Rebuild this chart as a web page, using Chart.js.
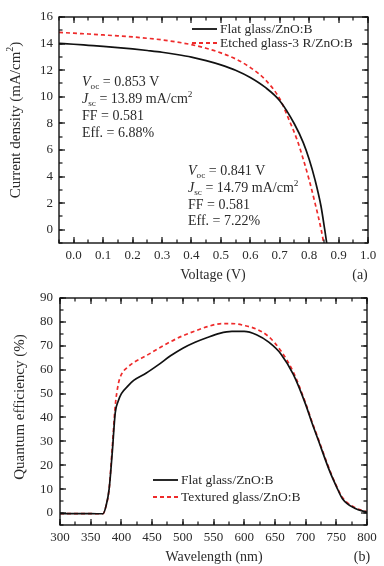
<!DOCTYPE html>
<html><head><meta charset="utf-8">
<script src="https://cdn.jsdelivr.net/npm/chart.js@4"></script>
<style>
html,body{margin:0;padding:0;background:#fff;}
#wrap{position:relative;width:384px;height:566px;overflow:hidden;}
.c{position:absolute;left:0;width:384px;height:283px;}
</style></head><body>
<div id="wrap">
<div class="c" style="top:0"><canvas id="c1"></canvas></div>
<div class="c" style="top:283px"><canvas id="c2"></canvas></div>
</div>
<script>
// ---- (a) J-V curves ----
const jvVoltFlat   = [-0.05, 0.0, 0.05, 0.1, 0.15, 0.2, 0.25, 0.3, 0.35, 0.4, 0.45, 0.5, 0.55, 0.6, 0.65, 0.7, 0.75, 0.78, 0.8, 0.82, 0.84, 0.853, 0.8597];
const jvCurFlat    = [14.02, 13.95, 13.87, 13.79, 13.7, 13.6, 13.48, 13.35, 13.18, 12.98, 12.72, 12.4, 12.0, 11.45, 10.72, 9.7, 7.95, 6.55, 5.3, 3.75, 1.8, 0.0, -1.0];
const jvVoltEtched = [-0.05, 0.0, 0.05, 0.1, 0.15, 0.2, 0.25, 0.3, 0.35, 0.4, 0.45, 0.5, 0.55, 0.6, 0.65, 0.7, 0.73, 0.76, 0.78, 0.8, 0.82, 0.841, 0.8495];
const jvCurEtched  = [14.85, 14.78, 14.72, 14.65, 14.58, 14.5, 14.4, 14.28, 14.12, 13.92, 13.65, 13.3, 12.85, 12.2, 11.3, 9.85, 8.35, 6.7, 5.3, 3.75, 2.0, 0.0, -1.0];
const jvXTicks = [0.0, 0.1, 0.2, 0.3, 0.4, 0.5, 0.6, 0.7, 0.8, 0.9, 1.0];
const jvYTicks = [0, 2, 4, 6, 8, 10, 12, 14, 16];
const jvLabels = ['Flat glass/ZnO:B', 'Etched glass-3 R/ZnO:B'];

// ---- (b) Quantum efficiency ----
const qeWavelength = [300, 320, 340, 360, 370, 375, 380, 385, 390, 395, 400, 410, 420, 440, 460, 480, 500, 520, 540, 560, 580, 600, 620, 640, 660, 680, 700, 710, 720, 740, 750, 760, 780, 800];
const qeFlat       = [-0.3, -0.2, -0.2, -0.3, -0.3, 3, 10, 25, 42, 47, 50, 53, 55.5, 58.5, 62, 65.8, 69, 71.5, 73.5, 75.2, 76, 76, 74.6, 71.5, 66.5, 58, 45.5, 38, 31, 17, 11.2, 6, 2, 0.3];
const qeTextured   = [-0.3, -0.2, -0.2, -0.3, -0.3, 3, 10, 27, 45, 54, 58, 61, 63, 65.8, 68.8, 71.7, 74.2, 76.2, 78, 79.2, 79.3, 78.5, 77, 73.8, 67.8, 59, 46, 38.5, 31.5, 17.5, 11.5, 6.5, 2.3, 0.5];
const qeXTicks = [300, 350, 400, 450, 500, 550, 600, 650, 700, 750, 800];
const qeYTicks = [0, 10, 20, 30, 40, 50, 60, 70, 80, 90];
const qeLabels = ['Flat glass/ZnO:B', 'Textured glass/ZnO:B'];

const FONT = '"Liberation Serif", "Times New Roman", serif';
const TXT = '#2a2a2a';
const BLACK = '#111111';
const RED = '#ee2b2b';

function richText(ctx, x, y, parts, size) {
  let cx = x;
  parts.forEach(p => {
    const sz = p.sub || p.sup ? size * 0.66 : size;
    ctx.font = (p.it ? 'italic ' : '') + sz + 'px ' + FONT;
    const dy = p.sub ? size * 0.3 : (p.sup ? -size * 0.35 : 0);
    ctx.fillText(p.t, cx, y + dy);
    cx += ctx.measureText(p.t).width;
  });
}

function deco(o) {
  return {
    id: 'deco',
    afterDraw(chart) {
      const ctx = chart.ctx, a = chart.chartArea, xs = chart.scales.x, ys = chart.scales.y;
      ctx.save();
      ctx.fillStyle = '#111111';
      const tick = (v, axis, len) => {
        if (axis === 'x') {
          const p = Math.round(xs.getPixelForValue(v));
          ctx.fillRect(p - 0.6, a.bottom - len, 1.2, len);
          ctx.fillRect(p - 0.6, a.top, 1.2, len);
        } else {
          const p = Math.round(ys.getPixelForValue(v));
          ctx.fillRect(a.left, p - 0.6, len, 1.2);
          ctx.fillRect(a.right - len, p - 0.6, len, 1.2);
        }
      };
      o.xMinor.forEach(v => tick(v, 'x', 3.5));
      o.xTicks.forEach(v => tick(v, 'x', 6));
      o.yMinor.forEach(v => tick(v, 'y', 3.5));
      o.yTicks.forEach(v => tick(v, 'y', 6));
      ctx.strokeStyle = '#111111';
      ctx.lineWidth = 1.4;
      ctx.setLineDash([]);
      ctx.strokeRect(a.left, a.top, a.right - a.left, a.bottom - a.top);

      // axis titles
      ctx.fillStyle = TXT;
      ctx.textBaseline = 'middle';
      ctx.textAlign = 'center';
      ctx.font = '14px ' + FONT;
      ctx.fillText(o.xTitle, o.xTitlePos[0], o.xTitlePos[1]);
      ctx.fillText(o.tag, o.tagPos[0], o.tagPos[1]);
      ctx.save();
      ctx.translate(o.yTitlePos[0], o.yTitlePos[1]);
      ctx.rotate(-Math.PI / 2);
      ctx.textAlign = 'left';
      let w = 0;
      o.yTitle.forEach(p => { ctx.font = (p.sup ? 10 : 15) + 'px ' + FONT; w += ctx.measureText(p.t).width; });
      richText(ctx, -w / 2, 0, o.yTitle, 15);
      ctx.restore();

      // legend
      ctx.textAlign = 'left';
      chart.data.datasets.forEach((d, i) => {
        const [lx, ly] = o.legendPos;
        const yy = ly + i * o.legendGap;
        ctx.save();
        ctx.strokeStyle = d.borderColor;
        ctx.lineWidth = 1.8;
        ctx.setLineDash(d.borderDash || []);
        ctx.beginPath(); ctx.moveTo(lx, yy); ctx.lineTo(lx + 25, yy); ctx.stroke();
        ctx.restore();
        ctx.fillStyle = TXT;
        ctx.font = '13.5px ' + FONT;
        ctx.fillText(d.label, lx + 28, yy + 0.5);
      });

      // annotations
      ctx.fillStyle = TXT;
      (o.notes || []).forEach(n => {
        n.lines.forEach((ln, i) => richText(ctx, n.x, n.y + i * n.gap[i], ln, 14));
      });
      ctx.restore();
    }
  };
}

function makeChart(id, o) {
  return new Chart(document.getElementById(id), {
    type: 'line',
    data: {
      datasets: o.series.map(s => ({
        label: s.label,
        data: s.x.map((v, i) => ({ x: v, y: s.y[i] })),
        borderColor: s.color,
        borderWidth: 1.7,
        borderDash: s.dash || [],
        pointRadius: 0,
        cubicInterpolationMode: 'monotone',
        fill: false
      }))
    },
    options: {
      responsive: true, maintainAspectRatio: false, animation: false,
      layout: { padding: o.padding },
      plugins: { legend: { display: false }, tooltip: { enabled: false } },
      scales: {
        x: {
          type: 'linear', min: o.xMin, max: o.xMax,
          grid: { display: false, drawTicks: false }, border: { display: false },
          ticks: { padding: o.xPad, color: TXT, font: { family: FONT, size: 13 }, maxRotation: 0, autoSkip: false, callback: o.xFmt },
          afterBuildTicks: s => { s.ticks = o.xTicks.map(v => ({ value: v })); },
          afterFit: s => { s.height = o.xH; }
        },
        y: {
          type: 'linear', min: o.yMin, max: o.yMax,
          grid: { display: false, drawTicks: false }, border: { display: false },
          ticks: { padding: o.yPad, color: TXT, font: { family: FONT, size: 13 }, autoSkip: false, callback: v => String(v) },
          afterBuildTicks: s => { s.ticks = o.yTicks.map(v => ({ value: v })); },
          afterFit: s => { s.width = o.yW; }
        }
      }
    },
    plugins: [deco(o)]
  });
}

const range = (a, b, st) => { const r = []; for (let v = a; v <= b + 1e-9; v += st) r.push(Math.round(v * 1000) / 1000); return r; };

makeChart('c1', {
  series: [
    { label: jvLabels[0], x: jvVoltFlat, y: jvCurFlat, color: BLACK },
    { label: jvLabels[1], x: jvVoltEtched, y: jvCurEtched, color: RED, dash: [4, 3] }
  ],
  padding: { left: 0, right: 16, top: 17, bottom: 0 },
  xMin: -0.05, xMax: 1.0, yMin: -1, yMax: 16,
  xTicks: jvXTicks, yTicks: jvYTicks,
  xMinor: range(-0.05, 1.0, 0.05), yMinor: range(-1, 16, 1),
  xFmt: v => v.toFixed(1), xPad: 5, yPad: 6, xH: 40, yW: 59,
  xTitle: 'Voltage (V)', xTitlePos: [213, 275], tag: '(a)', tagPos: [360, 275],
  yTitle: [{ t: 'Current density (mA/cm' }, { t: '2', sup: true }, { t: ')' }], yTitlePos: [16, 120],
  legendPos: [192, 29], legendGap: 14,
  notes: [
    { x: 82, y: 82, gap: [0, 17, 17, 17], lines: [
      [{ t: 'V', it: true }, { t: 'oc', sub: true }, { t: ' = 0.853 V' }],
      [{ t: 'J', it: true }, { t: 'sc', sub: true }, { t: ' = 13.89 mA/cm' }, { t: '2', sup: true }],
      [{ t: 'FF = 0.581' }],
      [{ t: 'Eff. = 6.88%' }]
    ] },
    { x: 188, y: 171.5, gap: [0, 17, 17, 16.5], lines: [
      [{ t: 'V', it: true }, { t: 'oc', sub: true }, { t: ' = 0.841 V' }],
      [{ t: 'J', it: true }, { t: 'sc', sub: true }, { t: ' = 14.79 mA/cm' }, { t: '2', sup: true }],
      [{ t: 'FF = 0.581' }],
      [{ t: 'Eff. = 7.22%' }]
    ] }
  ]
});

makeChart('c2', {
  series: [
    { label: qeLabels[0], x: qeWavelength, y: qeFlat, color: BLACK },
    { label: qeLabels[1], x: qeWavelength, y: qeTextured, color: RED, dash: [4, 3] }
  ],
  padding: { left: 0, right: 17, top: 15, bottom: 0 },
  xMin: 300, xMax: 800, yMin: -5, yMax: 90,
  xTicks: qeXTicks, yTicks: qeYTicks,
  xMinor: range(300, 800, 25), yMinor: range(-5, 90, 5),
  xFmt: v => String(v), xPad: 5, yPad: 7, xH: 41, yW: 60,
  xTitle: 'Wavelength (nm)', xTitlePos: [214, 274], tag: '(b)', tagPos: [362, 274],
  yTitle: [{ t: 'Quantum efficiency (%)' }], yTitlePos: [20, 124],
  legendPos: [153, 197], legendGap: 17,
  notes: []
});
</script>
</body></html>
